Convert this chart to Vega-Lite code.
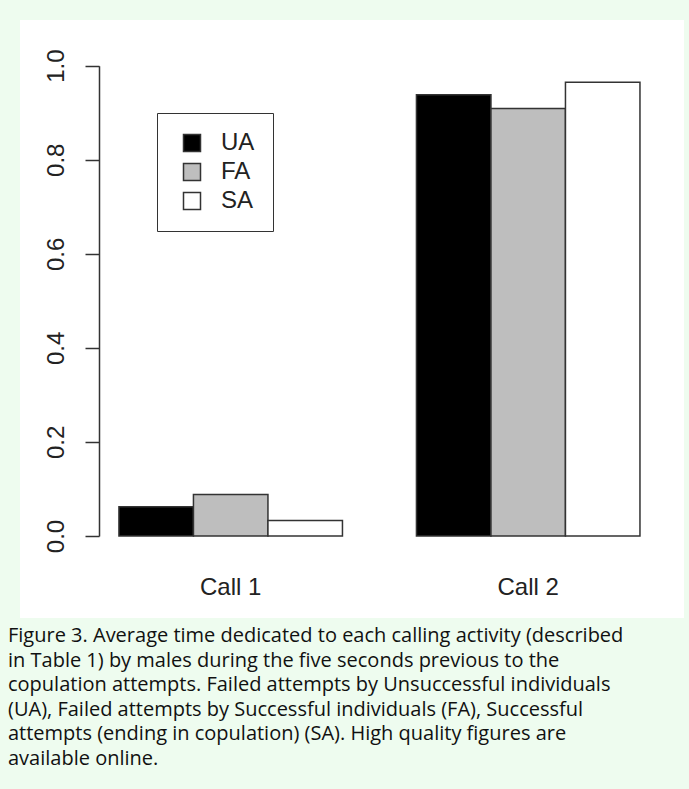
{
  "$schema": "https://vega.github.io/schema/vega-lite/v6.json",
  "width": 664,
  "height": 598,
  "padding": {"left": 8, "top": 20, "right": 5, "bottom": 20},
  "background": "#eefcef",
  "data": {
    "values": [
      {"call": "Call 1", "group": "UA", "value": 0.062},
      {"call": "Call 1", "group": "FA", "value": 0.088},
      {"call": "Call 1", "group": "SA", "value": 0.033},
      {"call": "Call 2", "group": "UA", "value": 0.938},
      {"call": "Call 2", "group": "FA", "value": 0.909},
      {"call": "Call 2", "group": "SA", "value": 0.965}
    ]
  },
  "mark": {"type": "bar", "stroke": "#333333", "strokeWidth": 1.5},
  "encoding": {
    "x": {
      "field": "call",
      "type": "nominal",
      "sort": ["Call 1", "Call 2"],
      "scale": {"paddingInner": 0.2487, "paddingOuter": 0.2403, "align": 0.692},
      "axis": {
        "title": null,
        "orient": "bottom",
        "offset": -82,
        "domain": false,
        "ticks": false,
        "tickSize": 0,
        "labelAngle": 0,
        "labelFont": "Liberation Sans",
        "labelFontSize": 24,
        "labelColor": "#222222",
        "labelBaseline": "alphabetic",
        "labelPadding": 58
      }
    },
    "xOffset": {
      "field": "group",
      "type": "nominal",
      "sort": ["UA", "FA", "SA"],
      "scale": {"paddingInner": 0, "paddingOuter": 0}
    },
    "y": {
      "field": "value",
      "type": "quantitative",
      "scale": {"domain": [-0.1744, 1.0971], "nice": false, "zero": false},
      "axis": {
        "title": null,
        "values": [0, 0.2, 0.4, 0.6, 0.8, 1],
        "format": ".1f",
        "offset": -79,
        "grid": false,
        "tickSize": 14,
        "tickColor": "#333333",
        "tickWidth": 1.5,
        "domainColor": "#333333",
        "domainWidth": 1.5,
        "domainDash": [470.3, 127.7],
        "domainDashOffset": 516,
        "labelAngle": -90,
        "labelAlign": "center",
        "labelBaseline": "alphabetic",
        "labelPadding": 22,
        "labelFont": "Liberation Sans",
        "labelFontSize": 24,
        "labelColor": "#222222"
      }
    },
    "y2": {"datum": 0},
    "fill": {
      "field": "group",
      "type": "nominal",
      "sort": ["UA", "FA", "SA"],
      "scale": {"domain": ["UA", "FA", "SA"], "range": ["#000000", "#bebebe", "#ffffff"]},
      "legend": {
        "title": null,
        "orient": "none",
        "legendX": 137,
        "legendY": 93,
        "symbolType": "square",
        "symbolSize": 289,
        "symbolStrokeColor": "#333333",
        "symbolStrokeWidth": 1.5,
        "labelFont": "Liberation Sans",
        "labelFontSize": 24,
        "labelColor": "#222222",
        "labelOffset": 17,
        "symbolOffset": 5,
        "padding": 18,
        "rowPadding": 5,
        "strokeColor": "#333333",
        "fillColor": "#ffffff"
      }
    }
  },
  "title": {
    "text": [
      "Figure 3. Average time dedicated to each calling activity (described",
      "in Table 1) by males during the five seconds previous to the",
      "copulation attempts. Failed attempts by Unsuccessful individuals",
      "(UA), Failed attempts by Successful individuals (FA), Successful",
      "attempts (ending in copulation) (SA). High quality figures are",
      "available online."
    ],
    "orient": "bottom",
    "anchor": "start",
    "frame": "bounds",
    "font": "Open Sans",
    "fontSize": 20,
    "fontWeight": "normal",
    "color": "#111111",
    "lineHeight": 24.6,
    "offset": 8,
    "dx": -12
  },
  "config": {
    "view": {"fill": "#ffffff", "stroke": null}
  }
}
